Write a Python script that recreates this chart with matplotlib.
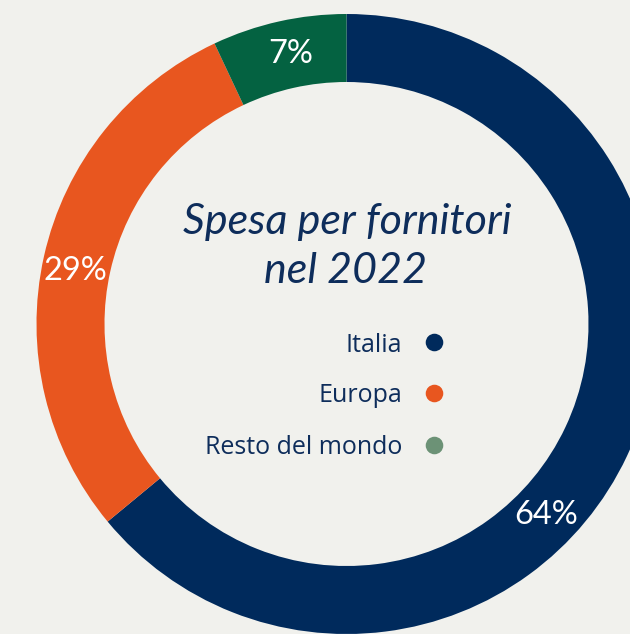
import numpy as np
import matplotlib
matplotlib.use("Agg")
import matplotlib.pyplot as plt

# ---- data ----
categories = ["Italia", "Europa", "Resto del mondo"]
values = [64, 29, 7]
pct_labels = ["64%", "29%", "7%"]
title_lines = ["Spesa per fornitori", "nel 2022"]

# ---- style ----
ring_colors = ["#002A5C", "#E8561F", "#046241"]
legend_colors = ["#002A5C", "#E8561F", "#6C9276"]
text_color = "#0E2D5B"
bg = "#F1F1ED"

W, H = 630, 634
fig = plt.figure(figsize=(W / 100, H / 100), dpi=100, facecolor=bg)
ax = fig.add_axes([0, 0, 1, 1])
ax.set_facecolor(bg)

cx, cy = 346.5, H - 324
R, width = 310, 68
ax.pie(values, colors=ring_colors, startangle=90, counterclock=False,
       radius=R, center=(cx, cy),
       wedgeprops=dict(width=width, linewidth=0))
ax.set_xlim(0, W)
ax.set_ylim(0, H)
ax.set_aspect("equal")
ax.axis("off")

# percentage labels placed along the ring's mid radius
fracs = np.array(values) / sum(values)
starts = 90 - 360 * np.concatenate([[0], np.cumsum(fracs)[:-1]])
mids = starts - 180 * fracs
angle_shift = [-18.5, 1.5, -1.0]
rmid = R - width / 2
for lab, a, s in zip(pct_labels, mids, angle_shift):
    t = np.deg2rad(a + s)
    ax.text(cx + rmid * np.cos(t), cy + rmid * np.sin(t), lab,
            color="white", fontsize=23.5, family="Lato",
            ha="center", va="center")

# title
ax.text(347, H - 222, title_lines[0], fontsize=31, family="Lato",
        style="italic", color=text_color, ha="center", va="center")
ax.text(346, H - 271, title_lines[1], fontsize=31, family="Lato",
        style="italic", color=text_color, ha="center", va="center")

# legend
leg_y = [342, 393, 445]
for name, col, y in zip(categories, legend_colors, leg_y):
    ax.text(402, H - y, name, fontsize=18, family="Open Sans",
            color=text_color, ha="right", va="center_baseline")
    ax.scatter([434], [H - y], s=160, color=col, linewidths=0)

fig.savefig("out.png", dpi=100, facecolor=bg)
